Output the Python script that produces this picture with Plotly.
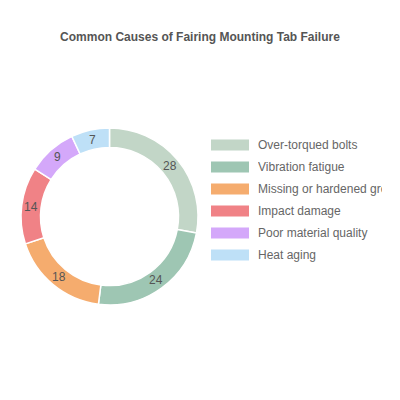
import math
import plotly.graph_objects as go

causes = [
    "Over-torqued bolts",
    "Vibration fatigue",
    "Missing or hardened grommets",
    "Impact damage",
    "Poor material quality",
    "Heat aging",
]
counts = [28, 24, 18, 14, 9, 7]
colors = ["#c2d6c7", "#9ec6b3", "#f5ac6e", "#f08286", "#d4a8fa", "#bee0f7"]

W, H = 400, 400
OFF = 8  # page body margin of the browser
HOLE = 0.78


def px_x(v):
    return (v - OFF) / W


def px_y(v):
    return 1 - (v - OFF) / H


donut_domain = dict(x=[px_x(21), px_x(198)], y=[px_y(306), px_y(127)])

fig = go.Figure(go.Pie(
    labels=causes,
    values=counts,
    hole=HOLE,
    sort=False,
    direction="clockwise",
    textinfo="none",
    marker=dict(colors=colors, line=dict(color="white", width=1.5)),
    showlegend=False,
    hoverinfo="label+value+percent",
    domain=donut_domain,
))

# value labels at the middle of each ring segment (pie text would be squeezed)
cx = sum(donut_domain["x"]) / 2
cy0 = sum(donut_domain["y"]) / 2
radius = min(donut_domain["x"][1] - donut_domain["x"][0],
             donut_domain["y"][1] - donut_domain["y"][0]) / 2
r_mid = radius * (1 + HOLE) / 2
total = sum(counts)
acc = 0
for c in counts:
    ang = math.radians((acc + c / 2) / total * 360)
    acc += c
    fig.add_annotation(xref="paper", yref="paper",
                       x=cx + r_mid * math.sin(ang), y=cy0 + r_mid * math.cos(ang),
                       xanchor="center", yanchor="middle", text=str(c), showarrow=False,
                       font=dict(size=12, color="#555555"))

# legend drawn by hand: wide colour swatches like the reference
for i, (name, col) in enumerate(zip(causes, colors)):
    cy = 145 + 22 * i
    fig.add_shape(type="rect", xref="paper", yref="paper",
                  x0=px_x(211), x1=px_x(249), y0=px_y(cy - 5.5), y1=px_y(cy + 5.5),
                  fillcolor=col, line=dict(width=0))
    fig.add_annotation(xref="paper", yref="paper", x=px_x(256), y=px_y(cy),
                       xanchor="left", yanchor="middle", text=name, showarrow=False,
                       width=124, align="left",
                       font=dict(size=12, color="#666666"))

fig.update_layout(
    width=W,
    height=H,
    title=dict(text="<b>Common Causes of Fairing Mounting Tab Failure</b>",
               x=px_x(200), xanchor="center", y=px_y(37), yanchor="middle",
               font=dict(size=12, color="#555555", family="Liberation Sans, Arial")),
    font=dict(family="Liberation Sans, Arial", color="#555555", size=12),
    margin=dict(l=0, r=0, t=0, b=0),
    paper_bgcolor="white",
    plot_bgcolor="white",
)

fig.write_html("out.html")
